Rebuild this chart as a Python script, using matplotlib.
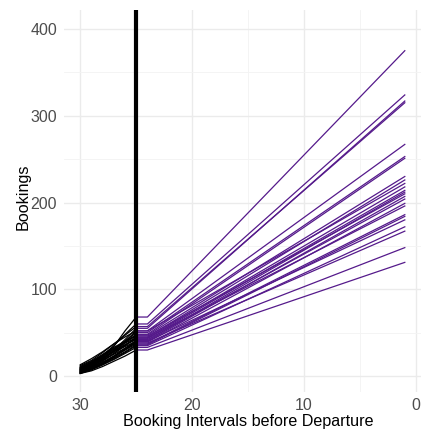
import matplotlib
matplotlib.use("Agg")
import matplotlib.pyplot as plt
from matplotlib.ticker import MultipleLocator

# Booking intervals before departure
history_intervals = [30, 29, 28, 27, 26, 25]
forecast_intervals = [25, 24, 1]
snapshot_interval = 25

# Cumulative bookings observed per flight (intervals 30 .. 25)
history = [
    [8, 14, 22, 34, 52, 68],
    [10, 15, 24, 35, 48, 60],
    [6, 12, 20, 30, 42, 55],
    [12, 18, 27, 37, 47, 57],
    [5, 11, 19, 29, 40, 52],
    [9, 15, 22, 31, 40, 50],
    [7, 12, 19, 28, 38, 48],
    [11, 17, 25, 33, 40, 47],
    [4, 10, 17, 26, 35, 45],
    [13, 20, 28, 37, 45, 52],
    [6, 11, 18, 26, 35, 44],
    [8, 13, 20, 28, 36, 43],
    [5, 9, 15, 23, 32, 41],
    [9, 16, 24, 32, 39, 46],
    [3, 8, 14, 22, 31, 40],
    [7, 13, 21, 29, 36, 42],
    [4, 9, 15, 22, 30, 39],
    [10, 16, 23, 31, 38, 44],
    [6, 10, 16, 23, 30, 37],
    [5, 9, 14, 21, 28, 36],
    [8, 14, 21, 28, 34, 40],
    [3, 7, 13, 20, 27, 35],
    [7, 12, 18, 25, 32, 38],
    [4, 8, 13, 19, 26, 33],
    [3, 6, 11, 17, 23, 30],
]

# Forecast bookings at departure (interval 1) per flight
final_bookings = [375, 324, 317, 315, 267, 253, 251, 230, 226, 222, 218, 214,
                  212, 210, 207, 204, 199, 196, 186, 184, 180, 172, 167, 148, 131]

x_ticks = [30, 20, 10, 0]
y_ticks = [0, 100, 200, 300, 400]

plt.rcParams["font.family"] = ["Liberation Sans", "DejaVu Sans"]

fig = plt.figure(figsize=(4.24, 4.30), dpi=100)
ax = fig.add_axes([0.151, 0.0884, 0.842, 0.8883])

for series, final in zip(history, final_bookings):
    ax.plot(history_intervals, series, color="black", linewidth=0.9, zorder=2)
    current = series[-1]
    ax.plot(forecast_intervals, [current, current, final],
            color="#551A8B", linewidth=0.9, zorder=2)

ax.axvline(snapshot_interval, color="black", linewidth=3.0, zorder=3)

ax.set_xlim(31.45, -0.45)
ax.set_ylim(-18.4, 421.9)
ax.set_xticks(x_ticks)
ax.set_yticks(y_ticks)
ax.xaxis.set_minor_locator(MultipleLocator(5))
ax.yaxis.set_minor_locator(MultipleLocator(50))

ax.grid(which="major", color="#EBEBEB", linewidth=1.0)
ax.grid(which="minor", color="#F3F3F3", linewidth=0.6)
ax.set_axisbelow(True)
for s in ax.spines.values():
    s.set_visible(False)
ax.tick_params(which="both", length=0, labelsize=11.5, labelcolor="#4D4D4D")
ax.tick_params(axis="x", pad=4)
ax.tick_params(axis="y", pad=5)

ax.set_xlabel("Booking Intervals before Departure", fontsize=11.6, color="black", labelpad=1)
ax.set_ylabel("Bookings", fontsize=11.6, color="black", labelpad=0)
ax.xaxis.label.set_x(0.515)
ax.yaxis.label.set_y(0.512)

fig.savefig("out.png", dpi=100)
